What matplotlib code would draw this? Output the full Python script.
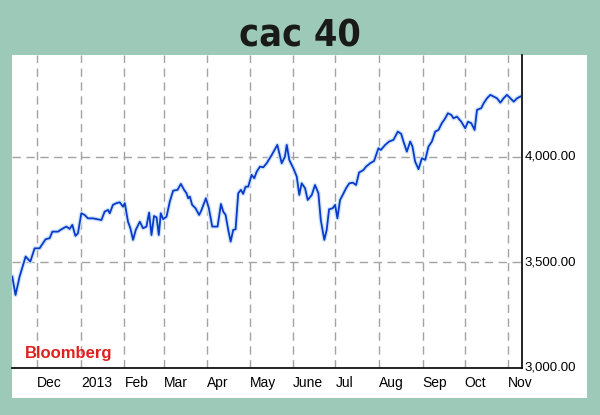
import datetime

import matplotlib
matplotlib.use("Agg")
from matplotlib import pyplot as plt
import matplotlib.dates as mdates
from matplotlib.patches import Rectangle

# CAC 40 close: days after 1 Dec 2012, index level
days = [-17.8, -15.5, -12.6, -8.3, -5.0, -1.9, 1.6, 5.9, 8.8, 10.7,
        14.7, 17.1, 20.7, 23.0, 24.9, 27.1, 28.9, 31.3, 33.7, 36.0,
        39.6, 42.5, 45.6, 47.9, 50.3, 51.5, 53.8, 56.3, 58.6, 61.0,
        62.2, 64.5, 66.2, 68.1, 70.0, 72.9, 75.2, 77.6, 79.5, 81.2,
        83.0, 84.8, 86.4, 87.8, 89.5, 91.9, 94.2, 96.6, 99.7, 102.1,
        104.4, 106.1, 107.3, 108.5, 110.1, 112.5, 115.1, 116.8, 119.9, 122.0,
        124.4, 128.2, 130.6, 132.2, 133.9, 135.8, 137.5, 139.3, 141.0, 142.9,
        144.8, 146.4, 148.1, 150.0, 152.4, 154.3, 156.0, 158.3, 160.7, 163.1,
        166.7, 170.7, 173.8, 176.1, 177.4, 179.2, 182.1, 184.5, 186.3, 188.0,
        190.4, 192.3, 195.2, 197.5, 199.9, 201.6, 204.1, 205.8, 207.5, 210.1,
        211.8, 213.4, 215.3, 217.2, 219.6, 221.9, 224.4, 226.7, 228.8, 231.9,
        233.8, 236.7, 239.5, 242.6, 244.3, 247.4, 250.2, 253.3, 256.4, 258.8,
        260.4, 262.8, 265.2, 266.8, 268.7, 271.1, 273.5, 275.9, 278.2, 280.6,
        283.0, 285.3, 287.7, 290.1, 292.0, 294.4, 296.0, 298.4, 301.5, 304.3,
        306.3, 308.6, 311.0, 312.7, 315.7, 317.4, 319.8, 322.2, 324.5, 326.9,
        329.3, 331.6, 334.0, 336.4, 338.8, 341.2, 343.5]
values = [3433, 3346, 3433, 3528, 3504, 3567, 3567, 3610, 3615, 3646,
          3646, 3657, 3670, 3659, 3678, 3626, 3638, 3733, 3725, 3709,
          3709, 3705, 3701, 3741, 3749, 3733, 3773, 3781, 3785, 3764,
          3781, 3693, 3662, 3607, 3654, 3693, 3662, 3670, 3736, 3630,
          3720, 3714, 3630, 3733, 3705, 3717, 3788, 3840, 3844, 3872,
          3844, 3828, 3804, 3812, 3773, 3757, 3725, 3749, 3804, 3757,
          3670, 3670, 3777, 3741, 3725, 3654, 3599, 3654, 3657, 3828,
          3844, 3825, 3859, 3859, 3915, 3899, 3930, 3954, 3951, 3970,
          4009, 4057, 3970, 4001, 4057, 3986, 3946, 3907, 3820, 3875,
          3852, 3796, 3820, 3867, 3828, 3701, 3607, 3654, 3752, 3757,
          3773, 3709, 3796, 3820, 3852, 3875, 3878, 3867, 3926, 3938,
          3954, 3970, 3981, 4041, 4033, 4057, 4073, 4081, 4120, 4109,
          4073, 4025, 4073, 4049, 3978, 3942, 3994, 3986, 4049, 4073,
          4120, 4128, 4160, 4183, 4207, 4199, 4183, 4191, 4167, 4136,
          4167, 4160, 4128, 4223, 4231, 4254, 4278, 4294, 4286, 4278,
          4257, 4278, 4294, 4278, 4262, 4278, 4286]

month_labels = ["Dec", "2013", "Feb", "Mar", "Apr", "May", "June",
                "Jul", "Aug", "Sep", "Oct", "Nov"]
y_ticks = [3000, 3500, 4000]

base = mdates.date2num(datetime.date(2012, 12, 1))
x = [base + d for d in days]
month_starts = [datetime.date(2012, 12, 1)] + [datetime.date(2013, m, 1) for m in range(1, 12)]

label_font = ["Liberation Sans", "DejaVu Sans"]

fig = plt.figure(figsize=(6, 4.15), dpi=100, facecolor="#9dcab8")
# white panel behind the chart
fig.patches.append(Rectangle((0.02, 0.041), 0.958, 0.8265, transform=fig.transFigure,
                             facecolor="white", edgecolor="none", zorder=0))

ax = fig.add_axes([0.02, 0.1133, 0.85, 0.7542])
ax.set_zorder(2)
ax.set_facecolor("none")

ax.plot(x, values, color="#cfe5f8", lw=3.2, solid_joinstyle="round", zorder=2)
ax.plot(x, values, color="#0b3acb", lw=1.3, solid_joinstyle="round", zorder=3)

ax.set_xlim(base - 18, base + 344.7)
ax.set_ylim(3000, 4483)

ax.set_xticks(mdates.date2num(month_starts))
ax.set_xticklabels(month_labels, fontsize=10, family=label_font, ha="left")
ax.set_yticks(y_ticks)
ax.set_yticklabels([f"{v:,.2f}" for v in y_ticks], fontsize=9.5, family=label_font,
                   va="center")
ax.yaxis.tick_right()
ax.tick_params(axis="x", length=0, pad=6)
ax.tick_params(axis="y", length=0, pad=2)

ax.grid(True, color="#a3a3a3", linestyle=(0, (6, 4)), lw=1.0)
ax.set_axisbelow(True)

for side in ["left", "top"]:
    ax.spines[side].set_visible(False)
for side in ["right", "bottom"]:
    ax.spines[side].set_color("black")
    ax.spines[side].set_linewidth(1.2)

fig.text(0.5, 0.887, "cac 40", ha="center", va="baseline", fontsize=27,
         fontweight="bold", family=["DejaVu Sans"], fontstretch="condensed", color="#1a1a1a")
fig.text(25 / 600, 0.137, "Bloomberg", ha="left", va="baseline", fontsize=12,
         fontweight="bold", family=label_font, color="#e0201f")

fig.savefig("out.png", dpi=100, facecolor=fig.get_facecolor())
